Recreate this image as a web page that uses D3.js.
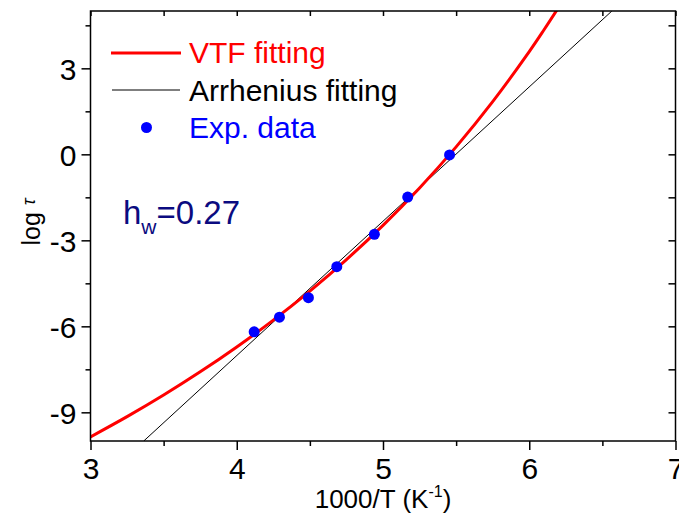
<!DOCTYPE html>
<html>
<head>
<meta charset="utf-8">
<script src="https://cdn.jsdelivr.net/npm/d3@7"></script>
<style>
  body { margin: 0; background: #ffffff; }
  svg { display: block; font-family: "Liberation Sans", Arial, sans-serif; }
</style>
</head>
<body>
<svg id="chart" width="679" height="517"></svg>
<script>
// ---- data ----
const expX = [4.119, 4.292, 4.490, 4.684, 4.941, 5.169, 5.455];
const expY = [-6.19, -5.68, -5.00, -3.92, -2.79, -1.49, -0.02];

const vtfX = [3.0, 3.25, 3.5, 3.75, 4.0, 4.25, 4.5, 4.75, 5.0, 5.25, 5.5, 5.75, 6.0, 6.1, 6.2];
const vtfY = [-9.856, -9.151, -8.397, -7.588, -6.719, -5.782, -4.769, -3.671, -2.476, -1.171, 0.261, 1.839, 3.583, 4.337, 5.121];

const arrX = [3.364, 6.565];
const arrY = [-10, 5];

const xTicks = [3, 4, 5, 6, 7];
const xMinor = [3.5, 4.5, 5.5, 6.5];
const yTicks = [-9, -6, -3, 0, 3];
const yMinor = [-7.5, -4.5, -1.5, 1.5, 4.5];

const legendLabels = ["VTF fitting", "Arrhenius fitting", "Exp. data"];

// ---- layout ----
const svg = d3.select("#chart");
const L = 90.5, R = 675.5, T = 11, B = 441;
const x = d3.scaleLinear().domain([3, 7]).range([L, R]);
const y = d3.scaleLinear().domain([-10, 5]).range([B, T]);

const defs = svg.append("defs");
defs.append("clipPath").attr("id", "clip")
  .append("rect").attr("x", L).attr("y", T).attr("width", R - L).attr("height", B - T);

const plot = svg.append("g").attr("clip-path", "url(#clip)");

// Arrhenius line
plot.append("path")
  .datum(arrX.map((v, i) => [v, arrY[i]]))
  .attr("fill", "none").attr("stroke", "#000").attr("stroke-width", 1)
  .attr("d", d3.line().x(d => x(d[0])).y(d => y(d[1])));

// VTF curve
plot.append("path")
  .datum(vtfX.map((v, i) => [v, vtfY[i]]))
  .attr("fill", "none").attr("stroke", "#ff0000").attr("stroke-width", 3)
  .attr("d", d3.line().curve(d3.curveCatmullRom).x(d => x(d[0])).y(d => y(d[1])));

// data points
plot.selectAll("circle.pt")
  .data(expX.map((v, i) => [v, expY[i]]))
  .join("circle").attr("class", "pt")
  .attr("cx", d => x(d[0])).attr("cy", d => y(d[1])).attr("r", 5.5)
  .attr("fill", "#0000ff");

// ---- axes ----
const tickFont = 30;
const fmt = d => String(d);
const gBottom = svg.append("g").attr("transform", `translate(0,${B})`)
  .call(d3.axisBottom(x).tickValues(xTicks).tickSize(9).tickFormat(fmt));
const gBottomMinor = svg.append("g").attr("transform", `translate(0,${B})`)
  .call(d3.axisBottom(x).tickValues(xMinor).tickSize(5).tickFormat(""));
const gLeft = svg.append("g").attr("transform", `translate(${L},0)`)
  .call(d3.axisLeft(y).tickValues(yTicks).tickSize(9).tickFormat(fmt));
const gLeftMinor = svg.append("g").attr("transform", `translate(${L},0)`)
  .call(d3.axisLeft(y).tickValues(yMinor).tickSize(5).tickFormat(""));
const gTop = svg.append("g").attr("transform", `translate(0,${T})`)
  .call(d3.axisBottom(x).tickValues(xTicks.concat(xMinor)).tickSize(5).tickFormat(""));
const gRight = svg.append("g").attr("transform", `translate(${R},0)`)
  .call(d3.axisLeft(y).tickValues(yTicks.concat(yMinor)).tickSize(7).tickFormat(""));

[gBottom, gBottomMinor, gLeft, gLeftMinor, gTop, gRight].forEach(g => {
  g.select(".domain").remove();
  g.selectAll(".tick line").attr("stroke", "#000").attr("stroke-width", 1.5);
  g.selectAll("text").attr("font-family", "Liberation Sans, Arial, sans-serif")
    .attr("font-size", tickFont).attr("fill", "#000");
});
gBottom.selectAll("text").attr("dy", null).attr("y", 38);
gLeft.selectAll("text").attr("x", -14).attr("dy", "0.36em");

// frame
svg.append("rect").attr("x", L).attr("y", T).attr("width", R - L).attr("height", B - T)
  .attr("fill", "none").attr("stroke", "#000").attr("stroke-width", 1.5);

// axis titles
svg.append("text")
  .attr("transform", `translate(40,222) rotate(-90)`)
  .attr("text-anchor", "middle").attr("font-size", 25).attr("fill", "#000")
  .html('log <tspan font-style="italic" font-size="18" dy="-5">τ</tspan>');

const xt = svg.append("text").attr("x", 383).attr("y", 508)
  .attr("text-anchor", "middle").attr("font-size", 26).attr("fill", "#000");
xt.append("tspan").text("1000/T (K");
xt.append("tspan").attr("font-size", 16).attr("dy", -11).text("-1");
xt.append("tspan").attr("dy", 11).text(")");

// legend
const lg = svg.append("g");
lg.append("line").attr("x1", 111).attr("x2", 181).attr("y1", 53).attr("y2", 53)
  .attr("stroke", "#ff0000").attr("stroke-width", 3);
lg.append("text").attr("x", 189).attr("y", 63).attr("font-size", 30).attr("fill", "#ff0000").text(legendLabels[0]);
lg.append("line").attr("x1", 112).attr("x2", 180).attr("y1", 90).attr("y2", 90)
  .attr("stroke", "#000").attr("stroke-width", 1.2);
lg.append("text").attr("x", 189).attr("y", 101).attr("font-size", 30).attr("fill", "#000").text(legendLabels[1]);
lg.append("circle").attr("cx", 146.5).attr("cy", 127.5).attr("r", 5.5).attr("fill", "#0000ff");
lg.append("text").attr("x", 189).attr("y", 138).attr("font-size", 30).attr("fill", "#0000ff").text(legendLabels[2]);

// annotation
const hw = svg.append("text").attr("x", 123).attr("y", 224).attr("font-size", 33).attr("fill", "#0b0b80");
hw.append("tspan").text("h");
hw.append("tspan").attr("font-size", 21).attr("dy", 10).text("w");
hw.append("tspan").attr("dy", -10).text("=0.27");
</script>
</body>
</html>
